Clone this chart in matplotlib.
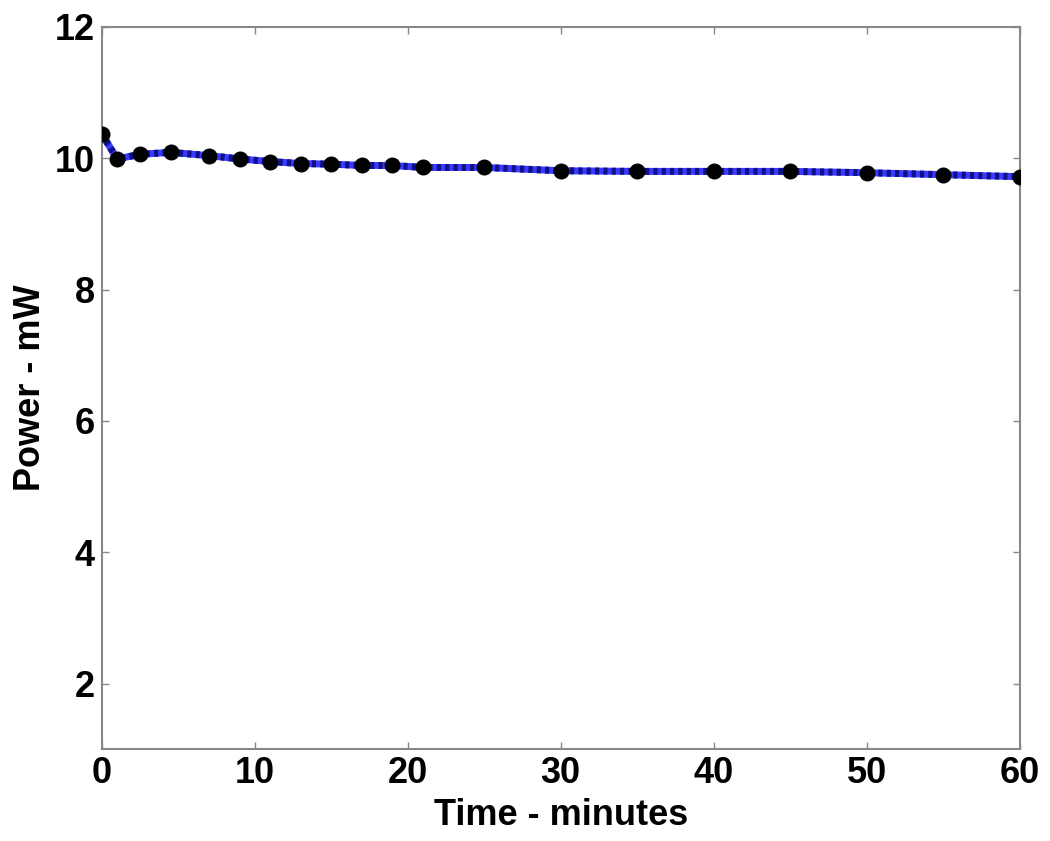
import matplotlib.pyplot as plt

# 数据
time_min = [0, 1, 2.5, 4.5, 7, 9, 11, 13, 15, 17, 19, 21, 25, 30, 35, 40, 45, 50, 55, 60]
power_mw = [10.37, 9.99, 10.06, 10.09, 10.04, 9.99, 9.95, 9.92, 9.91, 9.89, 9.89, 9.86, 9.86,
            9.81, 9.80, 9.80, 9.80, 9.78, 9.75, 9.72]
x_ticks = [0, 10, 20, 30, 40, 50, 60]
y_ticks = [2, 4, 6, 8, 10, 12]

plt.rcParams['font.family'] = ['Liberation Sans', 'DejaVu Sans']
plt.rcParams['font.weight'] = 'bold'

fig = plt.figure(figsize=(10.5, 8.41), dpi=100)
ax = fig.add_axes([0.097, 0.109, 0.874, 0.859])

ax.plot(time_min, power_mw, color='#3a3aff', lw=5, solid_capstyle='butt', zorder=2)
ax.plot(time_min, power_mw, color='#10108a', lw=5, linestyle=(0, (0.6, 0.6)), zorder=3)
ax.plot(time_min, power_mw, 'o', color='black', markersize=10.5, zorder=4)

ax.set_xlim(0, 60)
ax.set_ylim(1, 12)
ax.set_xticks(x_ticks)
ax.set_yticks(y_ticks)
ax.tick_params(direction='in', length=5, width=1, color='#888888', labelsize=26,
               top=True, right=True, pad=5)
for lab in ax.get_xticklabels() + ax.get_yticklabels():
    lab.set_fontweight('bold')
for s in ax.spines.values():
    s.set_color('#888888')
    s.set_linewidth(1.5)

ax.set_xlabel('Time - minutes', fontsize=26, fontweight='bold', labelpad=5)
ax.set_ylabel('Power - mW', fontsize=26, fontweight='bold', labelpad=5)

fig.savefig('out.png', dpi=100)
